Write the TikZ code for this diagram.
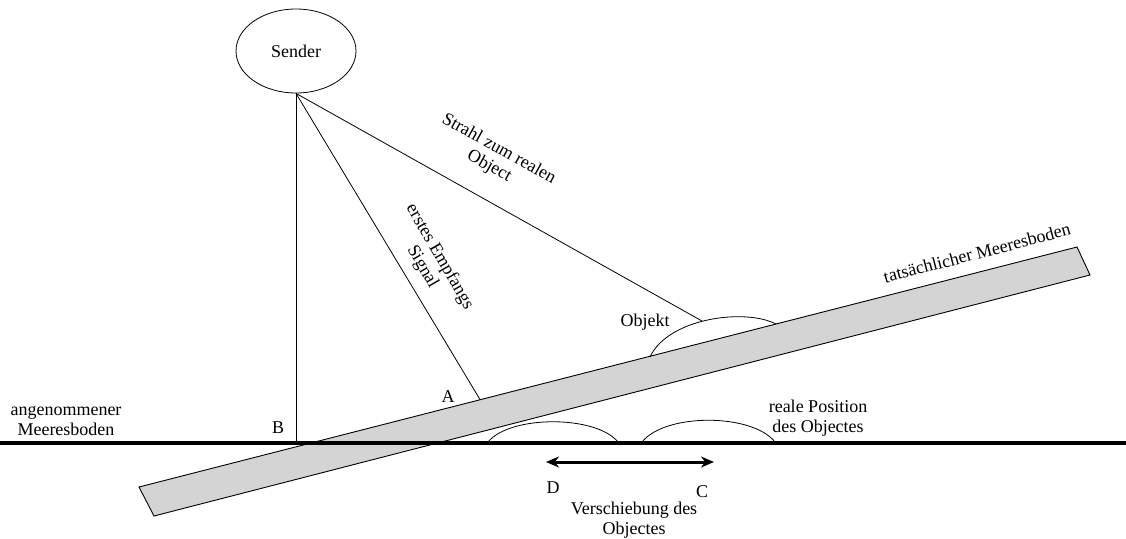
\documentclass[tikz,border=0pt]{standalone}
\usepackage{fontspec}
\setmainfont{Liberation Serif}
\usetikzlibrary{shapes.geometric,arrows.meta}
\tikzset{
  lbl/.style={font=\fontsize{18}{20}\selectfont, inner sep=0pt, align=center},
  thinline/.style={line width=0.8pt},
  slab/.style={draw, line width=0.9pt, fill=black!17},
  ground/.style={line width=3.4pt},
  bump/.style={line width=0.8pt},
  shiftarrow/.style={line width=3pt, {Stealth[length=13pt,width=11pt]}-{Stealth[length=13pt,width=11pt]}}
}
\begin{document}
\begin{tikzpicture}[x=1pt,y=-1pt]
\useasboundingbox (0,0) rectangle (1126,538);
% slab (actual sea floor)
\draw[slab] (139,487) -- (1077,247) -- (1090,275) -- (154,516) -- cycle;
% assumed sea floor
\coordinate (gl) at (0,443);
\coordinate (gr) at (1126,443);
\draw[ground] (gl) -- (gr);
% sender
\node[draw, ellipse, thinline, minimum width=120pt, minimum height=84pt, inner sep=0pt, lbl] (sender) at (296,51) {Sender};
% points
\coordinate (B) at (sender.south |- gl);
\coordinate (A) at (480,399.5);
\coordinate (obj) at (702,321);
\draw[thinline] (sender.south) -- (B);
\draw[thinline] (sender.south) -- (A);
\draw[thinline] (sender.south) -- (obj);
% object on slab
\coordinate (o1) at (650,357);
\coordinate (o2) at (776,324);
\draw[bump] (o1) .. controls (668,318) and (745,308) .. (o2);
% object positions on ground
\coordinate (d1) at (488,442);
\coordinate (d2) at (618,442);
\coordinate (c1) at (642,442);
\coordinate (c2) at (775,442);
\draw[bump] (d1) .. controls (510,415) and (596,415) .. (d2);
\draw[bump] (c1) .. controls (665,413) and (752,413) .. (c2);
% shift arrow
\coordinate (ar1) at (546,462);
\coordinate (ar2) at (714,462);
\draw[shiftarrow] (ar1) -- (ar2);
% labels
\node[lbl, rotate=-29] (strahl) at (494,158) {Strahl zum realen\\Object};
\node[lbl, rotate=-60] (erstes) at (431,262) {erstes Empfangs\\Signal};
\node[lbl, rotate=14.6] (tats) at (977,253) {tatsächlicher Meeresboden};
\node[lbl] (objlbl) at (645,322) {Objekt};
\node[lbl] (Alb) at (448,397) {A};
\node[lbl] (Blb) at (278,428) {B};
\node[lbl] (ang) at (66,421) {angenommener\\Meeresboden};
\node[lbl] (real) at (818,418) {reale Position\\des Objectes};
\node[lbl] (Dlb) at (553,488) {D};
\node[lbl] (Clb) at (702,492) {C};
\node[lbl] (versch) at (634,520) {Verschiebung des\\Objectes};
\end{tikzpicture}
\end{document}
